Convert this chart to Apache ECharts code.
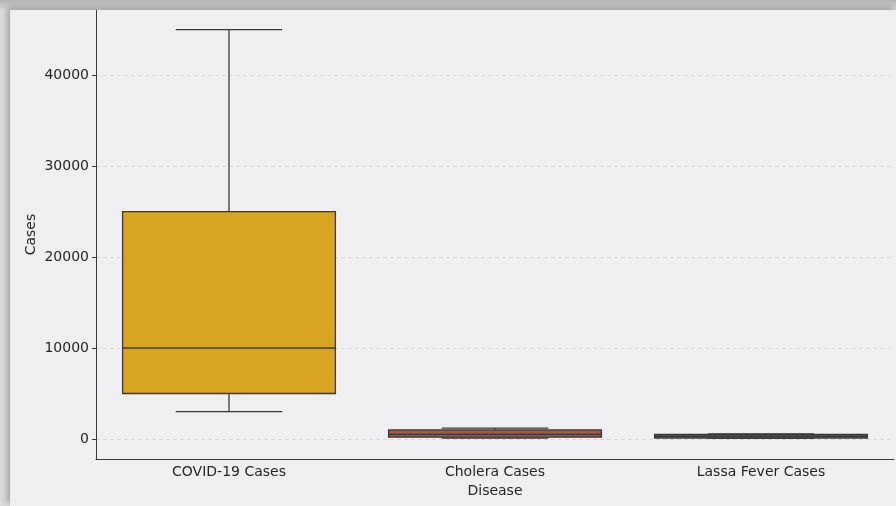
<!DOCTYPE html>
<html>
<head>
<meta charset="utf-8">
<script src="https://cdn.jsdelivr.net/npm/echarts@6/dist/echarts.min.js"></script>
<style>
  html, body { margin: 0; padding: 0; width: 896px; height: 506px; overflow: hidden; background: #c9c9c9; }
  #frame { position: absolute; left: 0; top: 0; width: 896px; height: 506px;
           background: linear-gradient(to bottom, #b4b4b4 0px, #dadada 10px); }
  #chart { position: absolute; left: 10px; top: 10px; width: 886px; height: 496px;
           background: #efeff1; box-shadow: -3px -3px 6px rgba(0,0,0,0.25); }
</style>
</head>
<body>
<div id="frame"></div>
<div id="chart"></div>
<script>
// Disease categories and their five-number summaries
const diseases = ['COVID-19 Cases', 'Cholera Cases', 'Lassa Fever Cases'];
const lowWhisker = [3000, 100, 60];
const q1 = [5000, 200, 100];
const median = [10000, 500, 300];
const q3 = [25000, 1000, 500];
const highWhisker = [45000, 1200, 560];
const boxColors = ['#d9a521', '#a8553e', '#64506e'];
const yTicks = [0, 10000, 20000, 30000, 40000];

const boxData = diseases.map((d, i) => [i, lowWhisker[i], q1[i], median[i], q3[i], highWhisker[i]]);

const edge = '#3a3a3a';
const font = 'DejaVu Sans';

function renderBox(params, api) {
  const idx = api.value(0);
  const band = api.size([1, 0])[0];
  const w = band * 0.8;
  const cap = w / 2;
  const pLow = api.coord([idx, api.value(1)]);
  const pQ1 = api.coord([idx, api.value(2)]);
  const pMed = api.coord([idx, api.value(3)]);
  const pQ3 = api.coord([idx, api.value(4)]);
  const pHigh = api.coord([idx, api.value(5)]);
  const x = pMed[0];
  const line = { stroke: edge, lineWidth: 1.3 };
  return {
    type: 'group',
    children: [
      { type: 'line', shape: { x1: x, y1: pQ3[1], x2: x, y2: pHigh[1] }, style: line },
      { type: 'line', shape: { x1: x, y1: pQ1[1], x2: x, y2: pLow[1] }, style: line },
      { type: 'line', shape: { x1: x - cap / 2, y1: pHigh[1], x2: x + cap / 2, y2: pHigh[1] }, style: line },
      { type: 'line', shape: { x1: x - cap / 2, y1: pLow[1], x2: x + cap / 2, y2: pLow[1] }, style: line },
      { type: 'rect', shape: { x: x - w / 2, y: pQ3[1], width: w, height: pQ1[1] - pQ3[1] },
        style: { fill: boxColors[idx], stroke: edge, lineWidth: 1.3 } },
      { type: 'line', shape: { x1: x - w / 2, y1: pMed[1], x2: x + w / 2, y2: pMed[1] }, style: line }
    ]
  };
}

const chart = echarts.init(document.getElementById('chart'), null, { renderer: 'canvas' });
chart.setOption({
  backgroundColor: 'transparent',
  animation: false,
  grid: { left: 86, right: 2, top: 0, bottom: 47, containLabel: false, outerBoundsMode: 'none' },
  xAxis: {
    type: 'category',
    data: diseases,
    name: 'Disease',
    nameLocation: 'middle',
    nameGap: 22,
    nameTextStyle: { fontFamily: font, fontSize: 14, color: '#262626' },
    axisLine: { onZero: false, lineStyle: { color: edge, width: 1 } },
    axisTick: { alignWithLabel: true, length: 4, lineStyle: { color: edge } },
    axisLabel: { fontFamily: font, fontSize: 14, color: '#262626', margin: 6 },
    splitLine: { show: false }
  },
  yAxis: {
    type: 'value',
    min: -2200,
    max: 47150,
    name: 'Cases',
    nameLocation: 'middle',
    nameGap: 58,
    nameMoveOverlap: false,
    nameRotate: 90,
    nameTextStyle: { fontFamily: font, fontSize: 14, color: '#262626' },
    axisLine: { show: true, lineStyle: { color: edge, width: 1 } },
    axisTick: { show: true, length: 4, lineStyle: { color: edge }, customValues: yTicks },
    axisLabel: { fontFamily: font, fontSize: 14, color: '#262626', margin: 7, customValues: yTicks,
                 formatter: v => String(v) },
    splitLine: { show: true, lineStyle: { color: '#d9d9d9', type: [4, 3], width: 1 } }
  },
  series: [{
    type: 'custom',
    renderItem: renderBox,
    encode: { x: 0, y: [1, 2, 3, 4, 5] },
    data: boxData
  }]
});
</script>
</body>
</html>
